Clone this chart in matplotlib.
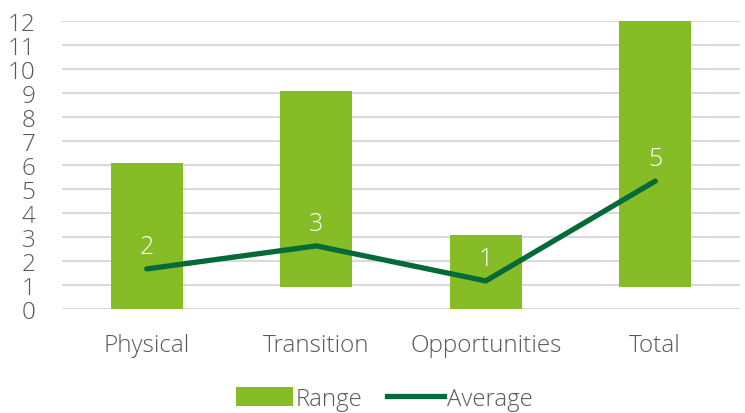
import numpy as np
import matplotlib.pyplot as plt
from matplotlib.lines import Line2D
from matplotlib.patches import Patch

plt.rcParams['font.family'] = ['Open Sans', 'DejaVu Sans']
plt.rcParams['font.weight'] = 'light'

# --- Données ---
categories = ["Physical", "Transition", "Opportunities", "Total"]
range_low  = [0.0, 0.92, 0.0, 0.92]
range_high = [6.08, 9.08, 3.08, 12.0]
average    = [1.67, 2.63, 1.17, 5.33]
avg_labels = ["2", "3", "1", "5"]

BAR_GREEN  = "#86BC25"
LINE_GREEN = "#046A38"
TEXT_GREY  = "#595959"
GRID_GREY  = "#D9D9D9"

fig = plt.figure(figsize=(7.45, 4.14), dpi=100)
ax = fig.add_axes([62 / 745, 1 - 310 / 414, 678 / 745, 288 / 414])

x = np.arange(len(categories))
heights = np.array(range_high) - np.array(range_low)
ax.bar(x, heights, bottom=range_low, width=0.425, color=BAR_GREEN, zorder=2)
ax.plot(x, average, color=LINE_GREEN, lw=3.8, solid_capstyle="round",
        solid_joinstyle="miter", zorder=3)

# Étiquettes de la moyenne (arrondies)
for xi, yi, lab in zip(x, average, avg_labels):
    ax.annotate(lab, (xi, yi), xytext=(0, 16), textcoords="offset points",
                ha="center", va="center", color="white", fontsize=18, zorder=4)

ax.set_xlim(-0.5, 3.5)
ax.set_ylim(0, 12)
ax.set_yticks(range(0, 13))
ax.set_xticks(x)
ax.set_xticklabels(categories)
ax.yaxis.grid(True, color=GRID_GREY, lw=1.5, zorder=0)
ax.set_axisbelow(True)
for s in ax.spines.values():
    s.set_visible(False)
ax.tick_params(axis="both", length=0, labelsize=17.5, colors=TEXT_GREY)
ax.tick_params(axis="x", pad=17)
ax.tick_params(axis="y", pad=19)

handles = [Patch(facecolor=BAR_GREEN, label="Range"),
           Line2D([0], [0], color=LINE_GREEN, lw=3.8, label="Average")]
leg = fig.legend(handles=handles, loc="center", ncol=2, frameon=False,
                 bbox_to_anchor=(384 / 745, 1 - 400 / 414), fontsize=17.3,
                 handlelength=2.4, handleheight=0.85, handletextpad=0.1,
                 columnspacing=1.0)
for t in leg.get_texts():
    t.set_color(TEXT_GREY)

fig.savefig("out.png", dpi=100)
